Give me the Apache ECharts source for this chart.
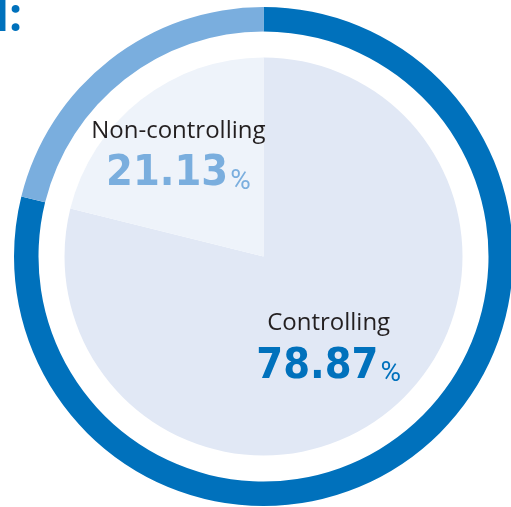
<!DOCTYPE html>
<html>
<head>
<meta charset="utf-8">
<script src="https://cdn.jsdelivr.net/npm/echarts@6/dist/echarts.min.js"></script>
<style>
html,body{margin:0;padding:0;background:#fff;}
#chart{width:511px;height:507px;}
</style>
</head>
<body>
<div id="chart"></div>
<script>
var categories = ['Controlling', 'Non-controlling'];
var values = [78.87, 21.13];
var valueLabels = ['78.87', '21.13'];
var ringColors = ['#0071BC', '#7AAEDE'];
var pieColors = ['#E1E8F5', '#EEF3FA'];
var labelOffsets = [[2, 11], [-22, -20]];

// pick an installed condensed font if there is one
var cv = document.createElement('canvas').getContext('2d');
function width(font, txt) { cv.font = font; return cv.measureText(txt).width; }
function installed(fam, weight) {
  var t = '21.13%mmmWWiil';
  return width(weight + ' 40px "' + fam + '", monospace', t) !== width(weight + ' 40px monospace', t) ||
         width(weight + ' 40px "' + fam + '", serif', t) !== width(weight + ' 40px serif', t);
}
var candidates = ['Liberation Sans Narrow', 'Noto Sans Condensed', 'DejaVu Sans Condensed', 'Roboto Condensed', 'Open Sans Condensed', 'Arial Narrow', 'Roboto'];
var numFont = 'Roboto';
for (var k = 0; k < candidates.length; k++) {
  if (installed(candidates[k], 'bold')) { numFont = candidates[k]; break; }
}
var numFam = '"' + numFont + '", Roboto, sans-serif';
var w40 = width('bold 40px ' + numFam, '21.13');
var widthFit = 40 * 102 / w40;
var numSize = Math.min(50, widthFit < 46 ? (widthFit + 50) / 2 : widthFit);

var chart = echarts.init(document.getElementById('chart'), null, {renderer: 'canvas'});
var center = [263.5, 256.5];

function ringData() {
  return categories.map(function (c, i) {
    return {name: c, value: values[i], itemStyle: {color: ringColors[i]}};
  });
}
function pieData() {
  return categories.map(function (c, i) {
    var col = ringColors[i];
    return {
      name: c, value: values[i],
      itemStyle: {color: pieColors[i]},
      label: {
        offset: labelOffsets[i],
        formatter: '{name|' + c + '}\n{val|' + valueLabels[i] + '}{pct|%}',
        rich: {
          name: {fontSize: 24, fontFamily: 'Open Sans', color: '#231F20', lineHeight: 30, align: 'center'},
          val: {fontSize: numSize, fontWeight: 'bold', fontFamily: numFam, color: col, lineHeight: 50, verticalAlign: 'bottom'},
          pct: {fontSize: 28, fontFamily: 'Roboto', color: col, lineHeight: 50, verticalAlign: 'bottom', padding: [0, 0, 0, 2]}
        }
      }
    };
  });
}

chart.setOption({
  animation: false,
  backgroundColor: '#ffffff',
  graphic: [{
    type: 'text', x: -5, y: 18,
    style: {text: 'l:', font: 'bold 46px "Open Sans"', fill: '#0071BC', verticalAlign: 'middle', align: 'left'}
  }],
  series: [{
    type: 'pie', silent: true, center: center, radius: [225, 249.5],
    startAngle: 90, clockwise: true, label: {show: false}, labelLine: {show: false},
    emphasis: {disabled: true}, data: ringData()
  }, {
    type: 'pie', silent: true, center: center, radius: [0, 199],
    startAngle: 90, clockwise: true,
    label: {show: true, position: 'inside'}, labelLine: {show: false},
    emphasis: {disabled: true}, data: pieData()
  }]
});
</script>
</body>
</html>
